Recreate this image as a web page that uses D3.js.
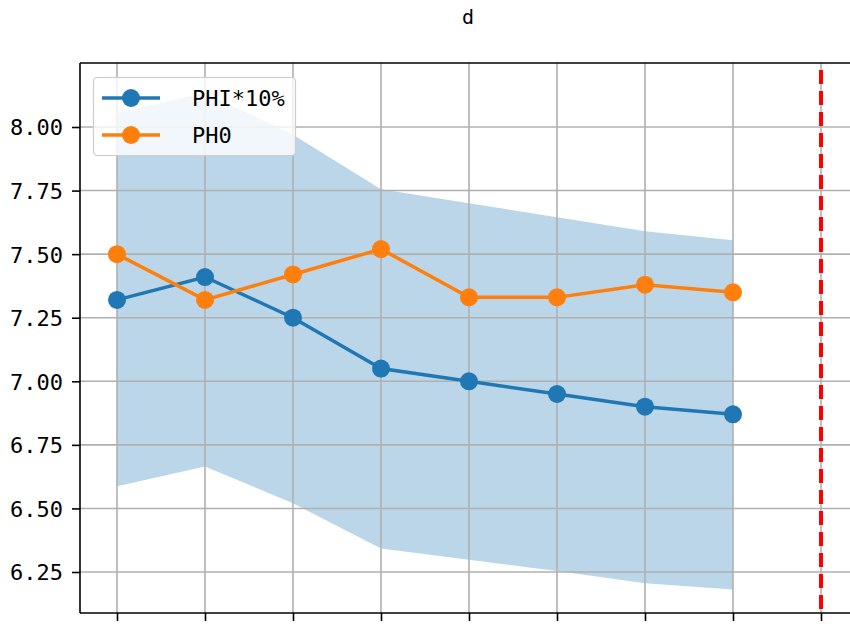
<!DOCTYPE html>
<html><head><meta charset="utf-8">
<script src="https://cdn.jsdelivr.net/npm/d3@7"></script>
<style>html,body{margin:0;padding:0;background:#fff;overflow:hidden}</style>
</head><body><svg id="c" width="850" height="624"></svg>
<script>
const xIndex = [0,1,2,3,4,5,6,7];
const phi10 = [7.32,7.41,7.25,7.05,7.00,6.95,6.90,6.87];
const ph0 = [7.50,7.32,7.42,7.52,7.33,7.33,7.38,7.35];
const bandUpper = [8.055,8.135,7.97,7.755,7.70,7.645,7.59,7.555];
const bandLower = [6.587,6.665,6.52,6.342,6.298,6.254,6.206,6.181];
const xTicks = [0,1,2,3,4,5,6,7,8];
const yTicks = [6.25,6.50,6.75,7.00,7.25,7.50,7.75,8.00];
const redLineX = 8;
const title = "d";
const seriesNames = ["PHI*10%","PH0"];

const font = "'DejaVu Sans Mono', monospace";
const svg = d3.select("#c");
const L = 80, T = 63, R = 850, B = 613;
const x = d3.scaleLinear().domain([0,8]).range([117,821]);
const y = d3.scaleLinear().domain([6.25,8.00]).range([572,127]);

svg.append("defs").append("clipPath").attr("id","clip")
  .append("rect").attr("x",L).attr("y",T).attr("width",R-L).attr("height",B-T);

const plot = svg.append("g").attr("clip-path","url(#clip)");

// band
plot.append("path")
  .datum(xIndex)
  .attr("d", d3.area().x(i=>x(i)).y0(i=>y(bandLower[i])).y1(i=>y(bandUpper[i])))
  .attr("fill","#1f77b4").attr("fill-opacity",0.3);

// grid
plot.selectAll(".gx").data(xTicks).join("line")
  .attr("x1",d=>x(d)).attr("x2",d=>x(d)).attr("y1",T).attr("y2",B)
  .attr("stroke","#b0b0b0").attr("stroke-width",1.6);
plot.selectAll(".gy").data(yTicks).join("line")
  .attr("x1",L).attr("x2",R).attr("y1",d=>y(d)).attr("y2",d=>y(d))
  .attr("stroke","#b0b0b0").attr("stroke-width",1.6);

// red dashed line
plot.append("line")
  .attr("x1",x(redLineX)).attr("x2",x(redLineX)).attr("y1",T).attr("y2",B)
  .attr("stroke","#ff0000").attr("stroke-width",4)
  .attr("stroke-dasharray","14,7").attr("stroke-dashoffset",-7);

// series
const series = [
  {vals: phi10, color:"#1f77b4"},
  {vals: ph0, color:"#ff7f0e"}
];
series.forEach(s=>{
  plot.append("path").datum(xIndex)
    .attr("d", d3.line().x(i=>x(i)).y(i=>y(s.vals[i])))
    .attr("fill","none").attr("stroke",s.color).attr("stroke-width",3.5);
  plot.selectAll(null).data(xIndex).join("circle")
    .attr("cx",i=>x(i)).attr("cy",i=>y(s.vals[i])).attr("r",9)
    .attr("fill",s.color);
});

// axes
const yAxis = d3.axisLeft(y).tickValues(yTicks).tickFormat(d3.format(".2f")).tickSize(8).tickPadding(9);
const gy = svg.append("g").attr("transform",`translate(${L},0)`).call(yAxis);
gy.select(".domain").remove();
gy.selectAll("line").attr("stroke","#000").attr("stroke-width",1.6);
gy.selectAll("text").attr("font-family",font).attr("font-size",22).attr("fill","#000")
  .attr("dy","0.36em");

const xAxis = d3.axisBottom(x).tickValues(xTicks).tickFormat("").tickSize(8);
const gx = svg.append("g").attr("transform",`translate(0,${B})`).call(xAxis);
gx.select(".domain").remove();
gx.selectAll("line").attr("stroke","#000").attr("stroke-width",1.6);

// spines
svg.append("line").attr("x1",L).attr("x2",L).attr("y1",T).attr("y2",B).attr("stroke","#000").attr("stroke-width",1.6);
svg.append("line").attr("x1",L).attr("x2",R).attr("y1",T).attr("y2",T).attr("stroke","#000").attr("stroke-width",1.6);
svg.append("line").attr("x1",L).attr("x2",R).attr("y1",B).attr("y2",B).attr("stroke","#000").attr("stroke-width",1.6);

// title
svg.append("text").attr("x",468).attr("y",24).attr("text-anchor","middle")
  .attr("font-family",font).attr("font-size",20).attr("fill","#000").text(title);

// legend
const lg = svg.append("g");
lg.append("rect").attr("x",93.5).attr("y",77.5).attr("width",202).attr("height",78)
  .attr("rx",4).attr("fill","#fff").attr("fill-opacity",0.8)
  .attr("stroke","#cccccc").attr("stroke-width",1.2);
series.forEach((s,k)=>{
  const cy = 98 + k*37;
  lg.append("line").attr("x1",102).attr("x2",160).attr("y1",cy).attr("y2",cy)
    .attr("stroke",s.color).attr("stroke-width",3.5);
  lg.append("circle").attr("cx",131).attr("cy",cy).attr("r",9).attr("fill",s.color);
  lg.append("text").attr("x",192).attr("y",cy).attr("dy","0.36em")
    .attr("font-family",font).attr("font-size",22).attr("fill","#000").text(seriesNames[k]);
});
</script></body></html>
